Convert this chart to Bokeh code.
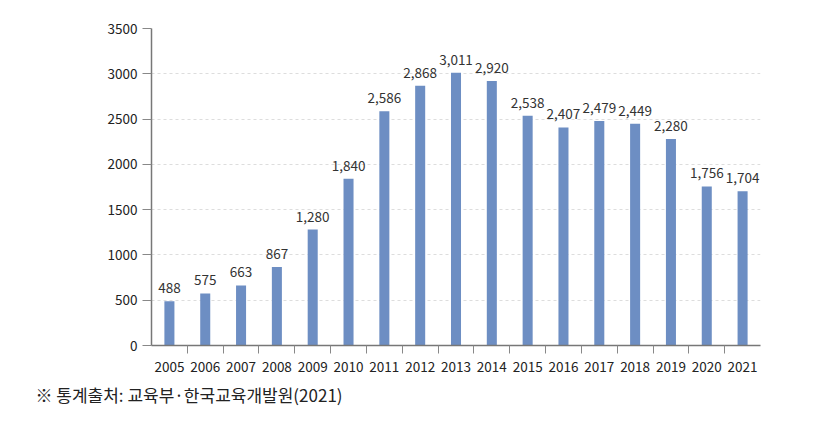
from bokeh.plotting import figure
from bokeh.models import ColumnDataSource, FixedTicker, Title, Range1d
from bokeh.core.properties import value
from bokeh.embed import file_html
from bokeh.resources import INLINE

years = ["2005", "2006", "2007", "2008", "2009", "2010", "2011", "2012", "2013",
         "2014", "2015", "2016", "2017", "2018", "2019", "2020", "2021"]
counts = [488, 575, 663, 867, 1280, 1840, 2586, 2868, 3011, 2920, 2538, 2407,
          2479, 2449, 2280, 1756, 1704]
count_labels = ["{:,}".format(v) for v in counts]
y_ticks = [0, 500, 1000, 1500, 2000, 2500, 3000, 3500]
source_note = "※  통계출처:  교육부·한국교육개발원(2021)"

FONT = "Noto Sans CJK KR"
idx = list(range(len(years)))
src = ColumnDataSource(dict(x=idx, y=counts, lab=count_labels))

H = 418
p = figure(width=815, height=H, output_backend="svg", toolbar_location=None,
           x_range=Range1d(-0.5, len(years) - 0.5), y_range=Range1d(0, 3500),
           min_border_left=151, min_border_right=55, min_border_top=28,
           min_border_bottom=H - 345)
p.outline_line_color = None
p.background_fill_color = "white"
p.border_fill_color = "white"

p.vbar(x="x", top="y", width=0.28, source=src, fill_color="#6d8ec3", line_color=None)
p.text(x="x", y="y", text="lab", source=src, text_align="center",
       text_baseline="bottom", y_offset=-8, text_font_size="13.5px",
       text_font=value(FONT), text_color="#333333")

# x axis
p.xaxis.ticker = FixedTicker(ticks=idx, minor_ticks=[i + 0.5 for i in idx[:-1]])
p.xaxis.major_label_overrides = {i: y for i, y in enumerate(years)}
p.xaxis.major_tick_line_color = None
p.xaxis.minor_tick_line_color = "#888888"
p.xaxis.minor_tick_out = 8
p.xaxis.minor_tick_in = 0
p.xaxis.axis_line_color = "#777777"
p.xaxis.axis_line_width = 1.5
p.xaxis.major_label_text_font = FONT
p.xaxis.major_label_text_font_size = "13.5px"
p.xaxis.major_label_text_color = "#222222"
p.xaxis.major_label_standoff = 8

# y axis
p.yaxis.ticker = FixedTicker(ticks=y_ticks)
p.yaxis.minor_tick_line_color = None
p.yaxis.major_tick_line_color = "#888888"
p.yaxis.major_tick_out = 9
p.yaxis.major_tick_in = 0
p.yaxis.axis_line_color = "#777777"
p.yaxis.axis_line_width = 1.5
p.yaxis.major_label_text_font = FONT
p.yaxis.major_label_text_font_size = "13.5px"
p.yaxis.major_label_text_color = "#222222"
p.yaxis.major_label_standoff = 5

p.xgrid.grid_line_color = None
p.ygrid.ticker = FixedTicker(ticks=y_ticks[1:-1])
p.ygrid.grid_line_color = "#dddddd"
p.ygrid.grid_line_dash = "3 3"

note = Title(text=source_note, align="left", offset=-116, standoff=10,
             text_font=FONT, text_font_size="17px", text_color="#222222",
             text_font_style="normal")
p.add_layout(note, "below")

open("out.html", "w").write(file_html(p, INLINE))
